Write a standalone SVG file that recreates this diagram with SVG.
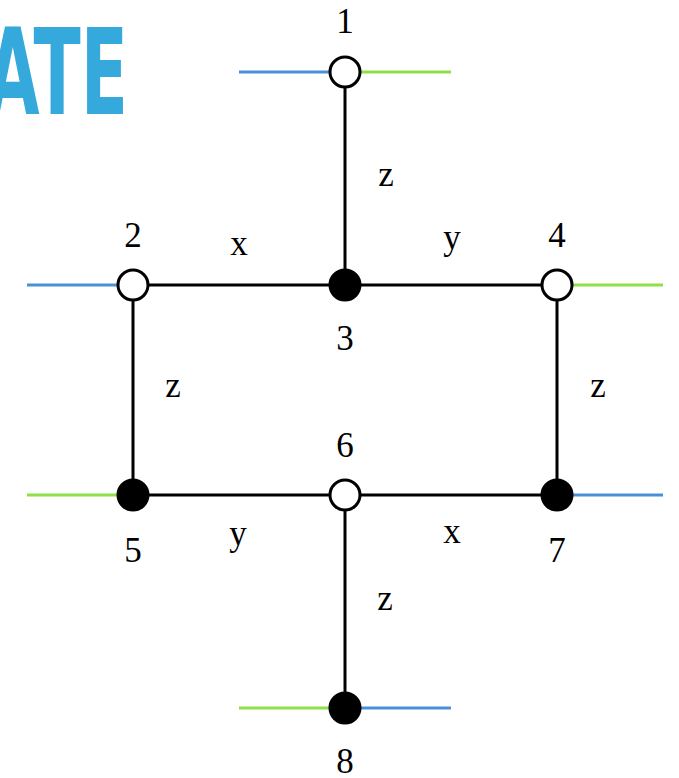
<svg xmlns="http://www.w3.org/2000/svg" width="679" height="778" viewBox="0 0 679 778">
<style>
.e{stroke:#000;stroke-width:3;fill:none}
.b{stroke:#4A90D9;stroke-width:3}
.g{stroke:#8EE04A;stroke-width:3}
.w{fill:#fff;stroke:#000;stroke-width:3}
.k{fill:#000;stroke:#000;stroke-width:3}
text{font-family:"Liberation Serif","DejaVu Serif",serif;font-size:35px;text-anchor:middle;fill:#000}
.t{font-family:"Liberation Sans Narrow","DejaVu Sans Condensed","Liberation Sans",sans-serif;font-weight:bold;font-size:120px;fill:#35A8DC;text-anchor:start}
</style>
<text class="t" x="-14" y="114" textLength="142" lengthAdjust="spacingAndGlyphs">ATE</text>
<g id="connectors">
<line class="e" x1="345" y1="72" x2="345" y2="285"/>
<line class="e" x1="133" y1="285" x2="557" y2="285"/>
<line class="e" x1="133" y1="285" x2="133" y2="495"/>
<line class="e" x1="557" y1="285" x2="557" y2="495"/>
<line class="e" x1="133" y1="495" x2="557" y2="495"/>
<line class="e" x1="345" y1="495" x2="345" y2="708"/>
<line class="b" x1="239" y1="72" x2="330" y2="72"/>
<line class="g" x1="360" y1="72" x2="451" y2="72"/>
<line class="b" x1="27" y1="285" x2="118" y2="285"/>
<line class="g" x1="572" y1="285" x2="663" y2="285"/>
<line class="g" x1="27" y1="495" x2="118" y2="495"/>
<line class="b" x1="572" y1="495" x2="663" y2="495"/>
<line class="g" x1="239" y1="708" x2="330" y2="708"/>
<line class="b" x1="360" y1="708" x2="451" y2="708"/>
<text x="386" y="186">z</text>
<text x="239" y="255">x</text>
<text x="452" y="249">y</text>
<text x="173" y="397">z</text>
<text x="598" y="397">z</text>
<text x="238" y="545">y</text>
<text x="452" y="543">x</text>
<text x="385" y="610">z</text>
</g>
<g id="n1"><circle class="w" cx="345" cy="72" r="15"/><text x="345" y="33">1</text></g>
<g id="n2"><circle class="w" cx="133" cy="285" r="15"/><text x="133" y="247">2</text></g>
<g id="n3"><circle class="k" cx="345" cy="285" r="15"/><text x="345" y="350">3</text></g>
<g id="n4"><circle class="w" cx="557" cy="285" r="15"/><text x="557" y="247">4</text></g>
<g id="n5"><circle class="k" cx="133" cy="495" r="15"/><text x="133" y="562">5</text></g>
<g id="n6"><circle class="w" cx="345" cy="495" r="15"/><text x="345" y="457">6</text></g>
<g id="n7"><circle class="k" cx="557" cy="495" r="15"/><text x="557" y="562">7</text></g>
<g id="n8"><circle class="k" cx="345" cy="708" r="15"/><text x="345" y="773">8</text></g>
</svg>
